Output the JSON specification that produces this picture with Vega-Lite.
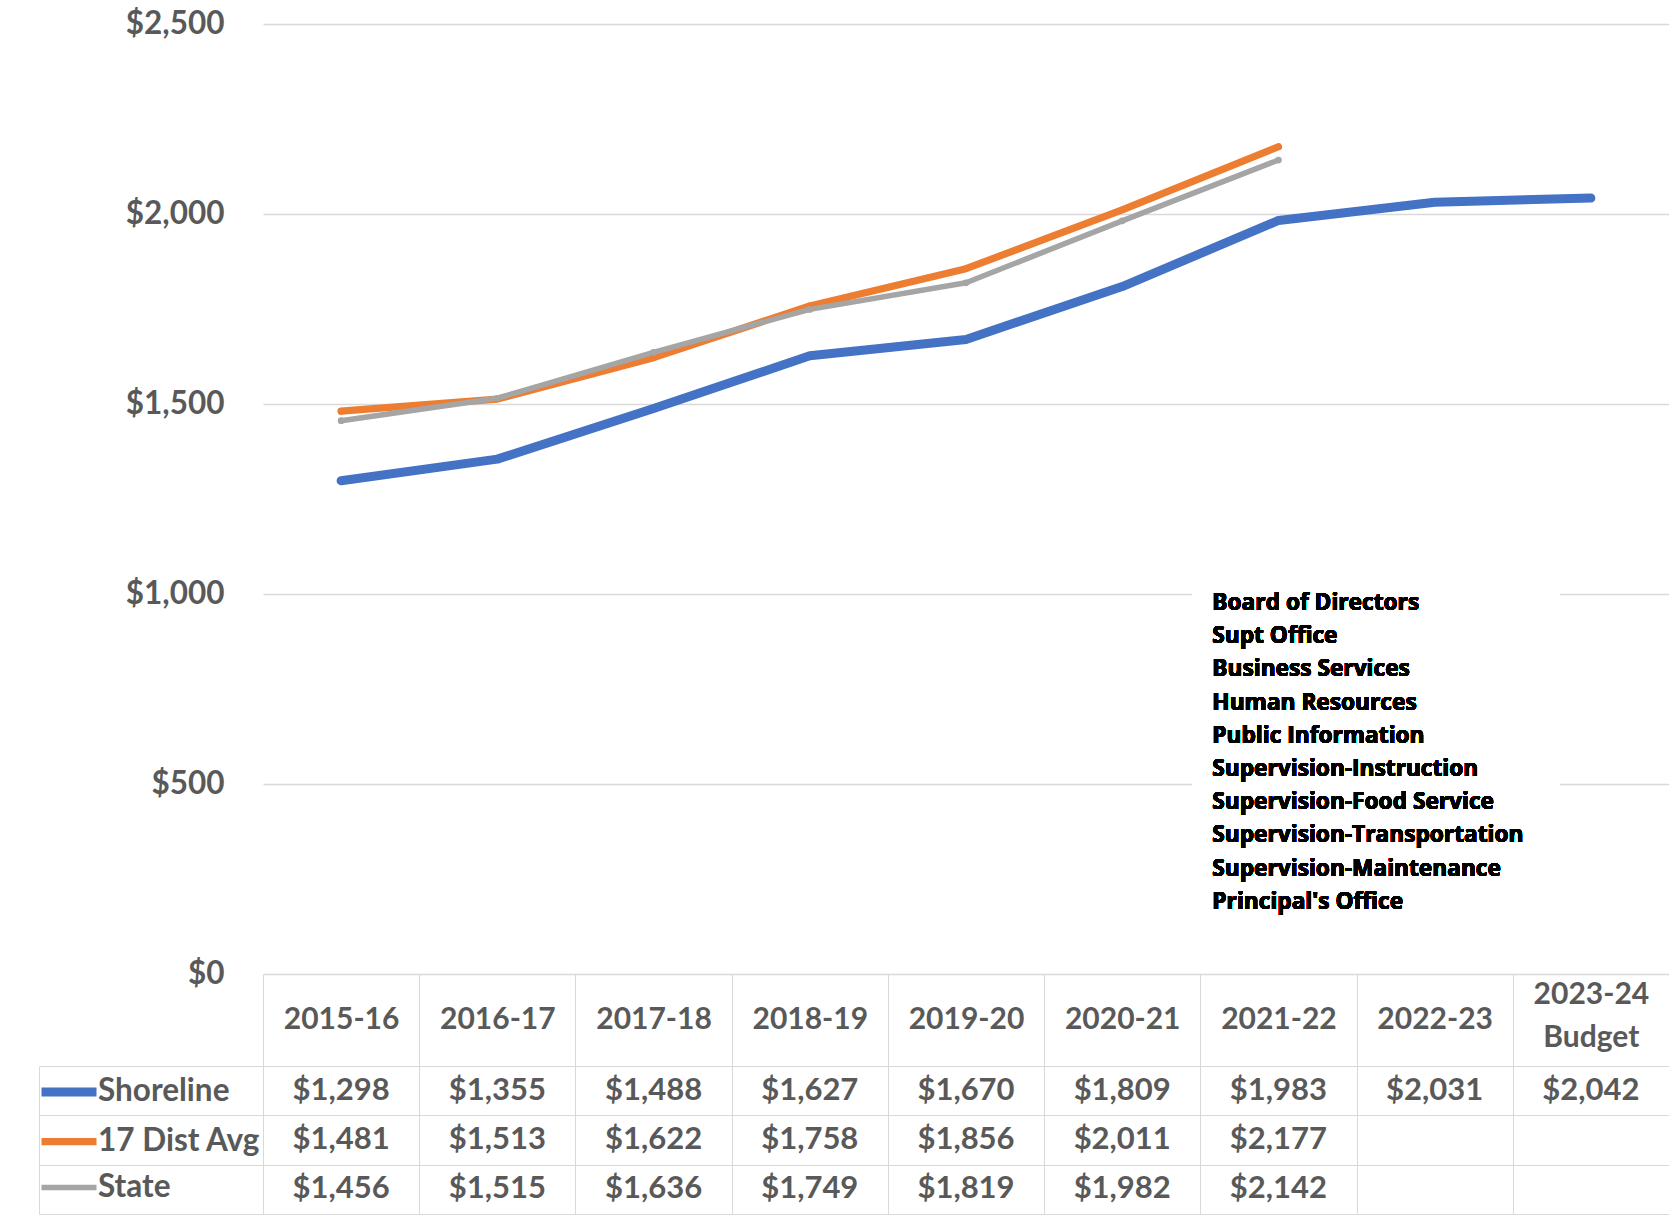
{
  "$schema": "https://vega.github.io/schema/vega-lite/v6.json",
  "padding": {"left": 37, "top": 8, "right": 0, "bottom": 0},
  "background": "white",
  "bounds": "flush",
  "spacing": 92,
  "data": {
    "values": [
      {"year": "2015-16", "series": "Shoreline", "value": 1298},
      {"year": "2016-17", "series": "Shoreline", "value": 1355},
      {"year": "2017-18", "series": "Shoreline", "value": 1488},
      {"year": "2018-19", "series": "Shoreline", "value": 1627},
      {"year": "2019-20", "series": "Shoreline", "value": 1670},
      {"year": "2020-21", "series": "Shoreline", "value": 1809},
      {"year": "2021-22", "series": "Shoreline", "value": 1983},
      {"year": "2022-23", "series": "Shoreline", "value": 2031},
      {"year": "2023-24 Budget", "series": "Shoreline", "value": 2042},
      {"year": "2015-16", "series": "17 Dist Avg", "value": 1481},
      {"year": "2016-17", "series": "17 Dist Avg", "value": 1513},
      {"year": "2017-18", "series": "17 Dist Avg", "value": 1622},
      {"year": "2018-19", "series": "17 Dist Avg", "value": 1758},
      {"year": "2019-20", "series": "17 Dist Avg", "value": 1856},
      {"year": "2020-21", "series": "17 Dist Avg", "value": 2011},
      {"year": "2021-22", "series": "17 Dist Avg", "value": 2177},
      {"year": "2015-16", "series": "State", "value": 1456},
      {"year": "2016-17", "series": "State", "value": 1515},
      {"year": "2017-18", "series": "State", "value": 1636},
      {"year": "2018-19", "series": "State", "value": 1749},
      {"year": "2019-20", "series": "State", "value": 1819},
      {"year": "2020-21", "series": "State", "value": 1982},
      {"year": "2021-22", "series": "State", "value": 2142}
    ]
  },
  "config": {
    "view": {"stroke": null},
    "font": "Lato"
  },
  "vconcat": [
    {
      "width": 1406,
      "height": 950,
      "encoding": {
        "x": {
          "field": "year",
          "type": "nominal",
          "scale": {
            "domain": ["2015-16", "2016-17", "2017-18", "2018-19", "2019-20", "2020-21", "2021-22", "2022-23", "2023-24 Budget"],
            "paddingInner": 0,
            "paddingOuter": 0
          },
          "axis": null
        },
        "y": {
          "field": "value",
          "type": "quantitative",
          "scale": {"domain": [0, 2500], "nice": false},
          "axis": {
            "values": [0, 500, 1000, 1500, 2000, 2500],
            "format": "$,.0f",
            "labelFont": "Lato",
            "labelFontSize": 31.5,
            "labelFontWeight": "bold",
            "labelColor": "#595959",
            "labelPadding": 39,
            "labelFlush": false,
            "ticks": false,
            "domain": false,
            "grid": true,
            "gridColor": "#d9d9d9",
            "gridWidth": 1.3,
            "title": null
          }
        }
      },
      "layer": [
        {
          "mark": {"type": "rect", "fill": "white", "xOffset": -8, "x2Offset": -31},
          "encoding": {
            "x": {"datum": "2021-22", "bandPosition": 0},
            "x2": {"datum": "2023-24 Budget"},
            "y": {"datum": 1040},
            "y2": {"datum": 420}
          }
        },
        {
          "mark": {
            "type": "line",
            "strokeCap": "round",
            "strokeJoin": "round",
            "point": {"filled": true, "size": 45}
          },
          "encoding": {
            "color": {
              "field": "series",
              "type": "nominal",
              "scale": {
                "domain": ["Shoreline", "17 Dist Avg", "State"],
                "range": ["#4472c4", "#ed7d31", "#a5a5a5"]
              },
              "legend": {
                "orient": "none",
                "legendX": -226,
                "legendY": 1036,
                "title": null,
                "padding": 0,
                "symbolType": "stroke",
                "symbolSize": 3025,
                "symbolStrokeWidth": 8,
                "labelFont": "Lato",
                "labelFontSize": 31.5,
                "labelFontWeight": "bold",
                "labelColor": "#595959",
                "labelOffset": -3,
                "labelLimit": 400,
                "rowPadding": -5
              }
            },
            "strokeWidth": {
              "field": "series",
              "type": "ordinal",
              "scale": {
                "domain": ["Shoreline", "17 Dist Avg", "State"],
                "range": [9, 5.5, 5.5]
              },
              "legend": null
            }
          }
        },
        {
          "mark": {
            "type": "text",
            "text": [
              "Board of Directors",
              "Supt Office",
              "Business Services",
              "Human Resources",
              "Public Information",
              "Supervision-Instruction",
              "Supervision-Food Service",
              "Supervision-Transportation",
              "Supervision-Maintenance",
              "Principal's Office"
            ],
            "align": "left",
            "baseline": "top",
            "font": "Open Sans",
            "fontWeight": "bold",
            "fontSize": 22.7,
            "lineHeight": 33.2,
            "color": "#000000",
            "dx": 12
          },
          "encoding": {
            "x": {"datum": "2021-22", "bandPosition": 0},
            "y": {"datum": 1005}
          }
        }
      ]
    },
    {
      "width": 1406,
      "height": 148,
      "encoding": {
        "x": {
          "field": "year",
          "type": "nominal",
          "scale": {
            "domain": ["2015-16", "2016-17", "2017-18", "2018-19", "2019-20", "2020-21", "2021-22", "2022-23", "2023-24 Budget"],
            "paddingInner": 0,
            "paddingOuter": 0
          },
          "axis": {
            "orient": "top",
            "title": null,
            "labelAngle": 0,
            "labelFont": "Lato",
            "labelFontSize": 30,
            "labelFontWeight": "bold",
            "labelColor": "#595959",
            "labelBaseline": "middle",
            "labelPadding": {
              "condition": {"test": "datum.value == '2023-24 Budget'", "value": -20},
              "value": -45
            },
            "labelLineHeight": 43,
            "labelExpr": "datum.value == '2023-24 Budget' ? ['2023-24', 'Budget'] : datum.label",
            "ticks": true,
            "tickBand": "extent",
            "tickSize": 92,
            "tickColor": "#d9d9d9",
            "domain": true,
            "domainColor": "#d9d9d9",
            "grid": true,
            "gridColor": "#d9d9d9"
          }
        },
        "y": {
          "field": "series",
          "type": "nominal",
          "scale": {
            "domain": ["Shoreline", "17 Dist Avg", "State"],
            "paddingInner": 0,
            "paddingOuter": 0
          }
        }
      },
      "layer": [
        {
          "mark": {
            "type": "text",
            "font": "Lato",
            "fontSize": 31,
            "fontWeight": "bold",
            "color": "#595959"
          },
          "encoding": {
            "y": {
              "field": "series",
              "type": "nominal",
              "axis": {
                "title": null,
                "labels": false,
                "ticks": true,
                "tickBand": "extent",
                "tickSize": 224,
                "tickColor": "#d9d9d9",
                "domain": true,
                "domainColor": "#d9d9d9",
                "grid": true,
                "gridColor": "#d9d9d9"
              }
            },
            "text": {"field": "value", "type": "quantitative", "format": "$,.0f"}
          }
        },
        {
          "mark": {"type": "point", "opacity": 0},
          "encoding": {
            "y": {
              "field": "series",
              "type": "nominal",
              "axis": {
                "orient": "left",
                "offset": 224,
                "title": null,
                "labels": false,
                "ticks": false,
                "grid": false,
                "domain": true,
                "domainColor": "#d9d9d9"
              }
            }
          }
        }
      ],
      "resolve": {"axis": {"y": "independent"}}
    }
  ]
}
